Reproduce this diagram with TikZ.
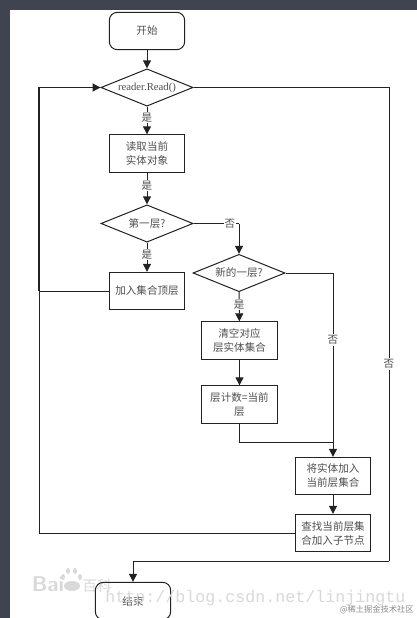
\documentclass[tikz,border=0pt]{standalone}
\usepackage{fontspec}
\setmainfont{Liberation Serif}
\newfontfamily\cjk{Noto Sans CJK SC}
\newfontfamily\wmono{Liberation Mono}
\usetikzlibrary{shapes.geometric,arrows.meta}
\definecolor{band}{HTML}{3F4450}
\definecolor{ink}{HTML}{222222}
\definecolor{wm}{HTML}{D9D9D9}
\tikzset{
  x=0.75pt,y=-0.75pt,
  every node/.style={font=\cjk\fontsize{7.9pt}{10.5pt}\selectfont,text=ink!80,align=center},
  procbox/.style={draw=ink,line width=0.75pt,minimum width=56.5pt,minimum height=28pt,inner sep=0pt},
  termbox/.style={procbox,rounded corners=6pt},
  decide/.style={draw=ink,line width=0.75pt,diamond,aspect=2.5,minimum width=69pt,minimum height=28pt,inner sep=0pt},
  flow/.style={draw=ink,line width=0.75pt,-{Triangle[length=6pt,width=6pt]}},
  flowplain/.style={draw=ink,line width=0.75pt},
  lab/.style={fill=white,inner sep=0.8pt},
  latinlab/.style={font=\fontsize{8pt}{10pt}\selectfont}
}
\begin{document}
\begin{tikzpicture}
\useasboundingbox (0,0) rectangle (417,618);
\fill[band] (0,0) rectangle (417,618);
\fill[white] (10,10) rectangle (417,618);
\begin{scope}
\clip (0,0) rectangle (417,618);
\node[font=\fontsize{16pt}{16pt}\sffamily\bfseries,text=wm] (bai) at (48,584) {Bai};
\foreach \cx/\cy/\rx/\ry in {72/586/8/5,63/577/2/3,68/571/2/3,75/571/2/3,80/577/2/3}
  \fill[wm] (\cx,\cy) ellipse [x radius=\rx*0.75pt,y radius=\ry*0.75pt];
\node[font=\cjk\fontsize{11pt}{11pt}\selectfont,text=wm] (baike) at (97,586) {百科};
\node[termbox] (start) at (147,31) {开始};
\node[decide] (read) at (147,87.5) {};
\node[latinlab] at (read) {reader.Read()};
\node[procbox] (cur) at (147,153.5) {读取当前\\实体对象};
\node[decide] (first) at (147,223.5) {第一层?};
\node[procbox] (top) at (147,291) {加入集合顶层};
\node[decide] (newl) at (239,273) {新的一层?};
\node[procbox] (clear) at (239.5,340.5) {清空对应\\层实体集合};
\node[procbox] (count) at (239.5,404.5) {层计数=当前\\层};
\node[procbox] (addl) at (333,476) {将实体加入\\当前层集合};
\node[procbox] (find) at (333,533) {查找当前层集\\合加入子节点};
\node[termbox] (finish) at (133,601) {结束};

\coordinate (loopb) at (39,533);
\coordinate (loopt) at (39,87.5);
\coordinate (looptop) at (39,291);
\coordinate (merge) at (333,442);
\coordinate (rtop) at (389,87.5);
\coordinate (rbot) at (389,561);
\coordinate (endin) at (133,561);
\coordinate (countb) at (239.5,442);
\coordinate (fcorner) at (239,223.5);
\coordinate (ncorner) at (333,273);

\draw[flow] (start) -- (read);
\draw[flow] (read) -- node[lab,pos=0.4] (y1) {是} (cur);
\draw[flow] (cur) -- node[lab,pos=0.4] (y2) {是} (first);
\draw[flow] (first) -- node[lab,pos=0.4] (y3) {是} (top);
\draw[flowplain] (first.east) -- (fcorner);
\draw[flow] (fcorner) -- (newl.north);
\node[lab] (n1) at (230,223.5) {否};
\draw[flow] (newl) -- node[lab,pos=0.42] (y4) {是} (clear);
\draw[flow] (clear) -- (count);
\draw[flowplain] (count.south) -- (countb) -- (merge);
\draw[flowplain] (newl.east) -- (ncorner) -- (merge);
\node[lab] (n2) at (333,340) {否};
\draw[flow] (merge) -- (addl.north);
\draw[flow] (addl) -- (find);
\draw[flowplain] (find.west) -- (loopb) -- (looptop);
\draw[flowplain] (top.west) -- (looptop);
\draw[flow,line width=1pt] (looptop) -- (loopt) -- (read.west);
\draw[flowplain] (read.east) -- (rtop) -- (rbot);
\draw[flow] (rbot) -- (endin) -- (finish.north);
\node[lab] (n3) at (389,364) {否};

\node[font=\wmono\fontsize{12.5pt}{14pt}\selectfont,text=wm,anchor=west,inner sep=0pt] (url) at (105,598) {http://blog.csdn.net/linjingtu};
\node[font=\cjk\fontsize{6.2pt}{8pt}\selectfont,text=black!45,anchor=east,inner sep=0pt] (juejin) at (414,610) {@稀土掘金技术社区};
\end{scope}
\end{tikzpicture}
\end{document}
